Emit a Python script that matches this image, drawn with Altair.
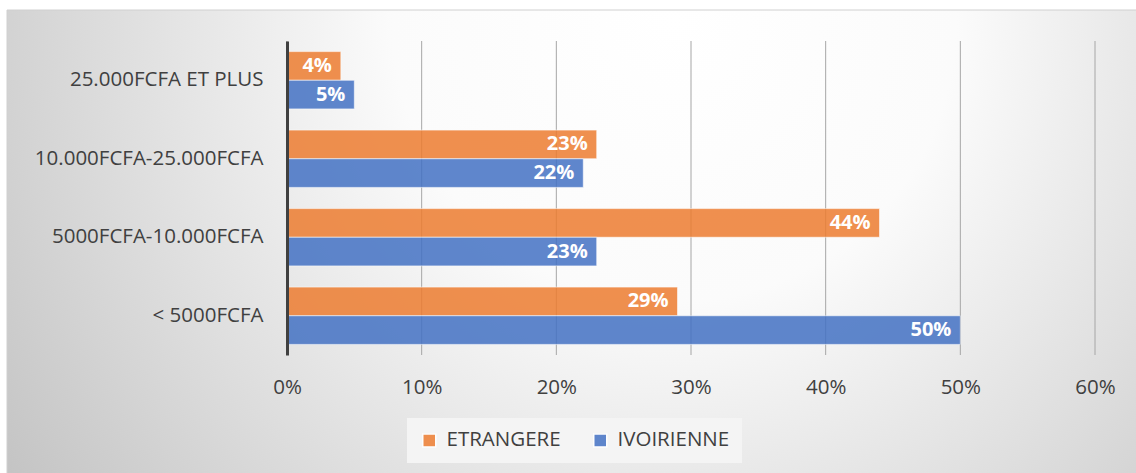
import altair as alt
import pandas as pd

categories = ["25.000FCFA ET PLUS", "10.000FCFA-25.000FCFA", "5000FCFA-10.000FCFA", "< 5000FCFA"]
series = ["ETRANGERE", "IVOIRIENNE"]
etrangere = [4, 23, 44, 29]
ivoirienne = [5, 22, 23, 50]
x_ticks = [0, 10, 20, 30, 40, 50, 60]
colors = ["#ED7D31", "#4472C4"]

rows = []
for c, e, i in zip(categories, etrangere, ivoirienne):
    rows.append({"cat": c, "serie": series[0], "val": e})
    rows.append({"cat": c, "serie": series[1], "val": i})
df = pd.DataFrame(rows)
ticks_df = pd.DataFrame({"t": x_ticks})

W, H = 808, 314
FONT = "Open Sans"
FS = 20.5

xscale = alt.Scale(domain=[0, 60], nice=False, zero=True)
yscale = alt.Scale(domain=categories, paddingInner=0.27, paddingOuter=0.135)

bg = alt.Chart(pd.DataFrame({"k": [0]})).mark_rect(
    color=alt.Gradient(
        gradient="radial",
        stops=[alt.GradientStop(offset=0, color="#ffffff"),
               alt.GradientStop(offset=0.35, color="#fbfbfb"),
               alt.GradientStop(offset=1, color="#c4c4c4")],
        x1=0.58, y1=0.3, r1=0, x2=0.58, y2=0.3, r2=0.7),
    stroke="#d0d0d0", strokeWidth=1,
).encode(x=alt.value(-280), x2=alt.value(870), y=alt.value(-31), y2=alt.value(450))

grid = alt.Chart(ticks_df).mark_rule(color="#a6a6a6", strokeWidth=1).encode(
    x=alt.X("t:Q", scale=xscale,
            axis=alt.Axis(values=x_ticks, labelExpr="datum.value + '%'", domain=False,
                          ticks=False, grid=False, title=None, labelPadding=22,
                          labelFlush=False, labelOverlap=False,
                          labelFontSize=FS, labelColor="#404040", labelFont=FONT, zindex=1))
)

bars = alt.Chart(df).mark_bar(opacity=0.85, stroke="#ffffff", strokeOpacity=0.6, strokeWidth=1).encode(
    x=alt.X("val:Q", scale=xscale),
    y=alt.Y("cat:N", scale=yscale, sort=categories,
            axis=alt.Axis(title=None, ticks=False, domainColor="#404040", domainWidth=3,
                          labelPadding=24, labelFontSize=FS, labelColor="#404040",
                          labelFont=FONT, labelLimit=0, zindex=1)),
    yOffset=alt.YOffset("serie:N", sort=series, scale=alt.Scale(paddingInner=0, paddingOuter=0)),
    color=alt.Color("serie:N", sort=series, scale=alt.Scale(domain=series, range=colors),
                    legend=alt.Legend(title=None, orient="none", legendX=120, legendY=377,
                                      direction="horizontal", fillColor="#f4f4f4", padding=12,
                                      symbolType="square", symbolSize=169, symbolOpacity=0.85,
                                      labelFontSize=FS, labelColor="#404040", labelFont=FONT,
                                      labelOffset=7, columnPadding=29, labelLimit=0)),
)

labels = alt.Chart(df).mark_text(align="right", baseline="middle", dx=-9, color="white",
                                 fontWeight="bold", fontSize=20, font=FONT).encode(
    x=alt.X("val:Q", scale=xscale),
    y=alt.Y("cat:N", scale=yscale, sort=categories),
    yOffset=alt.YOffset("serie:N", sort=series, scale=alt.Scale(paddingInner=0, paddingOuter=0)),
    text=alt.Text("label:N"),
).transform_calculate(label="datum.val + '%'")

chart = alt.layer(bg, grid, bars, labels).properties(
    width=W, height=H,
    autosize=alt.AutoSizeParams(type="none"),
    padding={"left": 287, "top": 41, "right": 41, "bottom": 118},
    background="white",
).configure_view(stroke=None)

chart.save("out.html", embed_options={"renderer": "svg", "actions": False})
